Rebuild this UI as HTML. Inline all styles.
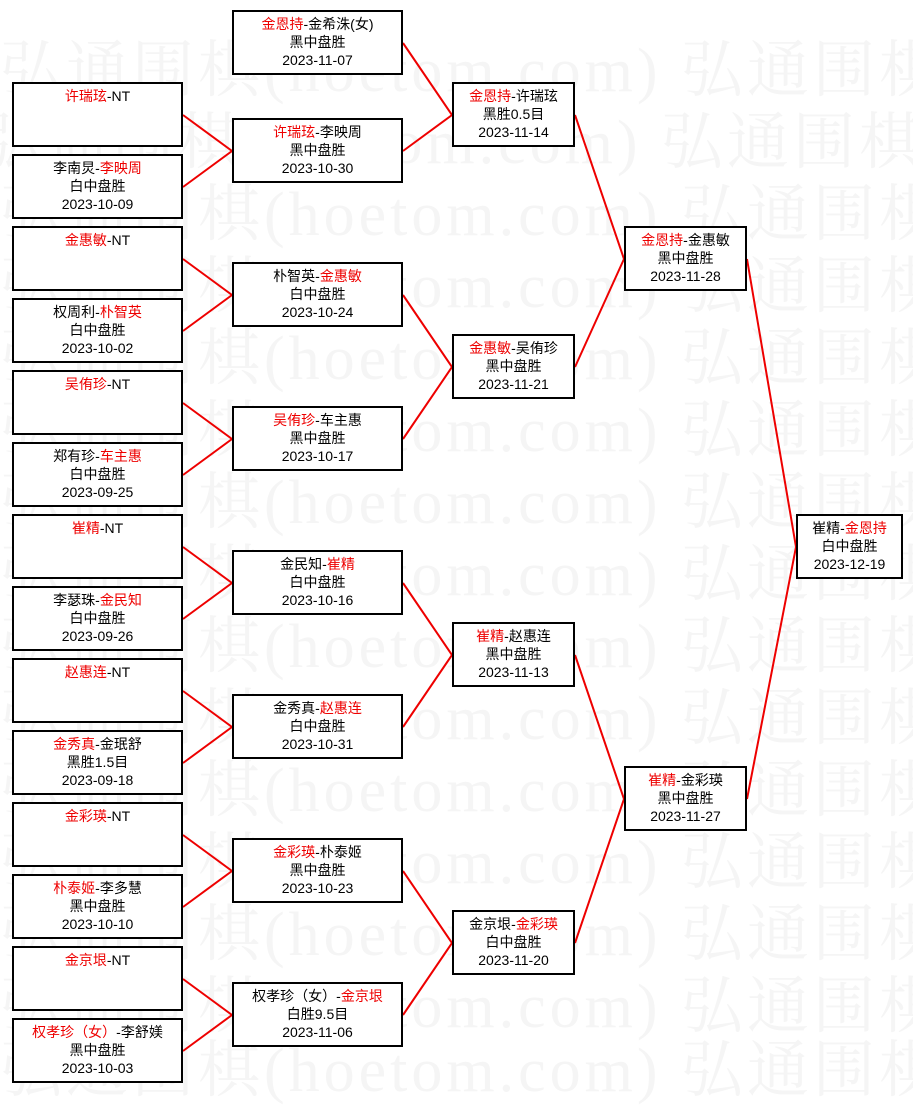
<!DOCTYPE html>
<html><head><meta charset="utf-8"><style>
body{margin:0;width:913px;height:1093px;background:#fff;position:relative;overflow:hidden;font-family:"Liberation Sans","Noto Sans CJK SC",sans-serif;}
.wm{position:absolute;left:0;font-size:62px;color:#f5f5f5;white-space:nowrap;font-family:"Liberation Serif","Noto Serif CJK SC",serif;letter-spacing:4px}
.b{position:absolute;height:61px;border:2px solid #000;background:#fff;box-sizing:content-box;text-align:center;font-size:14px;line-height:18px;padding-top:0;color:#000}
.b div{margin-top:3px}
.r{color:#e00}
svg{position:absolute;left:0;top:0}
</style></head><body>
<div class="wm" style="top:20px">弘通围棋(hoetom.com) 弘通围棋(hoetom.com)</div>
<div class="wm" style="top:92px;left:-20px">弘通围棋(hoetom.com) 弘通围棋(hoetom.com)</div>
<div class="wm" style="top:164px">弘通围棋(hoetom.com) 弘通围棋(hoetom.com)</div>
<div class="wm" style="top:236px">弘通围棋(hoetom.com) 弘通围棋(hoetom.com)</div>
<div class="wm" style="top:308px">弘通围棋(hoetom.com) 弘通围棋(hoetom.com)</div>
<div class="wm" style="top:380px">弘通围棋(hoetom.com) 弘通围棋(hoetom.com)</div>
<div class="wm" style="top:452px">弘通围棋(hoetom.com) 弘通围棋(hoetom.com)</div>
<div class="wm" style="top:524px">弘通围棋(hoetom.com) 弘通围棋(hoetom.com)</div>
<div class="wm" style="top:596px">弘通围棋(hoetom.com) 弘通围棋(hoetom.com)</div>
<div class="wm" style="top:668px">弘通围棋(hoetom.com) 弘通围棋(hoetom.com)</div>
<div class="wm" style="top:740px">弘通围棋(hoetom.com) 弘通围棋(hoetom.com)</div>
<div class="wm" style="top:812px">弘通围棋(hoetom.com) 弘通围棋(hoetom.com)</div>
<div class="wm" style="top:884px">弘通围棋(hoetom.com) 弘通围棋(hoetom.com)</div>
<div class="wm" style="top:956px">弘通围棋(hoetom.com) 弘通围棋(hoetom.com)</div>
<div class="wm" style="top:1020px">弘通围棋(hoetom.com) 弘通围棋(hoetom.com)</div>
<svg width="913" height="1093"><g stroke="#e00" stroke-width="2" fill="none">
<polyline points="183,115 232,151 183,187"/>
<polyline points="183,259 232,295 183,331"/>
<polyline points="183,403 232,439 183,475"/>
<polyline points="183,547 232,583 183,619"/>
<polyline points="183,691 232,727 183,763"/>
<polyline points="183,835 232,871 183,907"/>
<polyline points="183,979 232,1015 183,1051"/>
<polyline points="403,43 452,115 403,151"/>
<polyline points="403,295 452,367 403,439"/>
<polyline points="403,583 452,655 403,727"/>
<polyline points="403,871 452,943 403,1015"/>
<polyline points="575,115 624,259 575,367"/>
<polyline points="575,655 624,799 575,943"/>
<polyline points="747,259 796,547 747,799"/>
</g></svg>
<div class="b" style="left:12px;top:82px;width:167px"><div><span class="r">许瑞玹</span>-NT</div></div>
<div class="b" style="left:12px;top:154px;width:167px"><div>李南炅-<span class="r">李映周</span><br>白中盘胜<br>2023-10-09</div></div>
<div class="b" style="left:12px;top:226px;width:167px"><div><span class="r">金惠敏</span>-NT</div></div>
<div class="b" style="left:12px;top:298px;width:167px"><div>权周利-<span class="r">朴智英</span><br>白中盘胜<br>2023-10-02</div></div>
<div class="b" style="left:12px;top:370px;width:167px"><div><span class="r">吴侑珍</span>-NT</div></div>
<div class="b" style="left:12px;top:442px;width:167px"><div>郑有珍-<span class="r">车主惠</span><br>白中盘胜<br>2023-09-25</div></div>
<div class="b" style="left:12px;top:514px;width:167px"><div><span class="r">崔精</span>-NT</div></div>
<div class="b" style="left:12px;top:586px;width:167px"><div>李瑟珠-<span class="r">金民知</span><br>白中盘胜<br>2023-09-26</div></div>
<div class="b" style="left:12px;top:658px;width:167px"><div><span class="r">赵惠连</span>-NT</div></div>
<div class="b" style="left:12px;top:730px;width:167px"><div><span class="r">金秀真</span>-金珉舒<br>黑胜1.5目<br>2023-09-18</div></div>
<div class="b" style="left:12px;top:802px;width:167px"><div><span class="r">金彩瑛</span>-NT</div></div>
<div class="b" style="left:12px;top:874px;width:167px"><div><span class="r">朴泰姬</span>-李多慧<br>黑中盘胜<br>2023-10-10</div></div>
<div class="b" style="left:12px;top:946px;width:167px"><div><span class="r">金京垠</span>-NT</div></div>
<div class="b" style="left:12px;top:1018px;width:167px"><div><span class="r">权孝珍（女）</span>-李舒媄<br>黑中盘胜<br>2023-10-03</div></div>
<div class="b" style="left:232px;top:10px;width:167px"><div><span class="r">金恩持</span>-金希洙(女)<br>黑中盘胜<br>2023-11-07</div></div>
<div class="b" style="left:232px;top:118px;width:167px"><div><span class="r">许瑞玹</span>-李映周<br>黑中盘胜<br>2023-10-30</div></div>
<div class="b" style="left:232px;top:262px;width:167px"><div>朴智英-<span class="r">金惠敏</span><br>白中盘胜<br>2023-10-24</div></div>
<div class="b" style="left:232px;top:406px;width:167px"><div><span class="r">吴侑珍</span>-车主惠<br>黑中盘胜<br>2023-10-17</div></div>
<div class="b" style="left:232px;top:550px;width:167px"><div>金民知-<span class="r">崔精</span><br>白中盘胜<br>2023-10-16</div></div>
<div class="b" style="left:232px;top:694px;width:167px"><div>金秀真-<span class="r">赵惠连</span><br>白中盘胜<br>2023-10-31</div></div>
<div class="b" style="left:232px;top:838px;width:167px"><div><span class="r">金彩瑛</span>-朴泰姬<br>黑中盘胜<br>2023-10-23</div></div>
<div class="b" style="left:232px;top:982px;width:167px"><div>权孝珍（女）-<span class="r">金京垠</span><br>白胜9.5目<br>2023-11-06</div></div>
<div class="b" style="left:452px;top:82px;width:119px"><div><span class="r">金恩持</span>-许瑞玹<br>黑胜0.5目<br>2023-11-14</div></div>
<div class="b" style="left:452px;top:334px;width:119px"><div><span class="r">金惠敏</span>-吴侑珍<br>黑中盘胜<br>2023-11-21</div></div>
<div class="b" style="left:452px;top:622px;width:119px"><div><span class="r">崔精</span>-赵惠连<br>黑中盘胜<br>2023-11-13</div></div>
<div class="b" style="left:452px;top:910px;width:119px"><div>金京垠-<span class="r">金彩瑛</span><br>白中盘胜<br>2023-11-20</div></div>
<div class="b" style="left:624px;top:226px;width:119px"><div><span class="r">金恩持</span>-金惠敏<br>黑中盘胜<br>2023-11-28</div></div>
<div class="b" style="left:624px;top:766px;width:119px"><div><span class="r">崔精</span>-金彩瑛<br>黑中盘胜<br>2023-11-27</div></div>
<div class="b" style="left:796px;top:514px;width:103px"><div>崔精-<span class="r">金恩持</span><br>白中盘胜<br>2023-12-19</div></div>
</body></html>
